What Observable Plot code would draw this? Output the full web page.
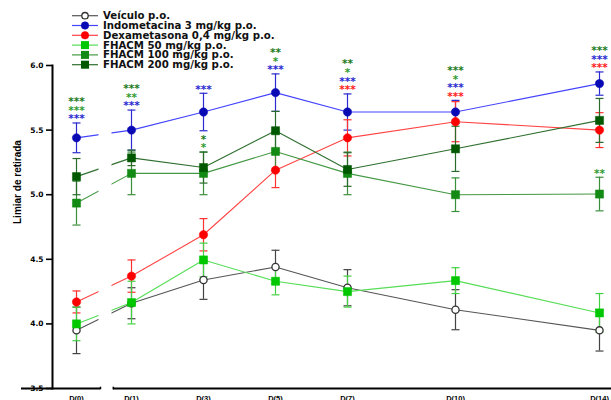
<!DOCTYPE html>
<html>
<head>
<meta charset="utf-8">
<script src="https://cdn.jsdelivr.net/npm/d3@7"></script>
<script src="https://cdn.jsdelivr.net/npm/@observablehq/plot@0.6"></script>
<style>
  html, body { margin: 0; padding: 0; background: #fff; }
  #wrap { position: relative; width: 611px; height: 400px; overflow: hidden; }
  #legend { position: absolute; left: 0; top: 0; }
</style>
</head>
<body>
<div id="wrap"></div>
<script>
// ---------- data ----------
const days = [0, 1, 3, 5, 7, 10, 14];
const dayLabels = ["D(0)", "D(1)", "D(3)", "D(5)", "D(7)", "D(10)", "D(14)"];
const seriesNames = [
  "Veículo p.o.",
  "Indometacina 3 mg/kg p.o.",
  "Dexametasona 0,4 mg/kg p.o.",
  "FHACM 50 mg/kg p.o.",
  "FHACM 100 mg/kg p.o.",
  "FHACM 200 mg/kg p.o."
];
const veiculoMean = [3.95, 4.16, 4.34, 4.44, 4.28, 4.11, 3.95];
const veiculoSem  = [0.18, 0.12, 0.15, 0.13, 0.14, 0.155, 0.16];
const indoMean    = [5.44, 5.50, 5.64, 5.79, 5.64, 5.64, 5.86];
const indoSem     = [0.115, 0.155, 0.145, 0.145, 0.14, 0.09, 0.09];
const dexaMean    = [4.17, 4.37, 4.69, 5.19, 5.44, 5.565, 5.50];
const dexaSem     = [0.085, 0.125, 0.125, 0.135, 0.14, 0.155, 0.135];
const f50Mean     = [4.00, 4.165, 4.495, 4.33, 4.25, 4.335, 4.085];
const f50Sem      = [0.13, 0.165, 0.13, 0.105, 0.12, 0.10, 0.15];
const f100Mean    = [4.935, 5.165, 5.165, 5.335, 5.165, 5.00, 5.005];
const f100Sem     = [0.17, 0.165, 0.165, 0.15, 0.165, 0.13, 0.13];
const f200Mean    = [5.14, 5.285, 5.21, 5.495, 5.195, 5.355, 5.575];
const f200Sem     = [0.14, 0.06, 0.12, 0.15, 0.13, 0.175, 0.17];

// significance marks: day, series index, label, group ("top" stack or "local" above own bars)
const sigDay    = [0, 0, 0,  1, 1, 1,  3,  3, 3,  5, 5, 5,  7, 7, 7, 7,  10, 10, 10, 10,  14, 14, 14,  14];
const sigSeries = [1, 4, 5,  1, 4, 5,  1,  4, 5,  1, 4, 5,  2, 1, 4, 5,   2,  1,  4,  5,   2,  1,  5,   4];
const sigLabel  = ["***", "***", "***",  "***", "**", "***",  "***",  "*", "*",  "***", "*", "**",
                   "***", "***", "*", "**",  "***", "***", "*", "***",  "***", "***", "***",  "**"];
const sigGroup  = ["top", "top", "top",  "top", "top", "top",  "top",  "local", "local",  "top", "top", "top",
                   "top", "top", "top", "top",  "top", "top", "top", "top",  "top", "top", "top",  "local"];

const yLabel = "Limiar de retirada";
const yTicks = [3.5, 4.0, 4.5, 5.0, 5.5, 6.0];

// ---------- styles ----------
const markerColor = ["#ffffff", "#0a0ab4", "#ff0000", "#00c800", "#138a13", "#005800"];
const markerStroke = ["#333333", "#0a0ab4", "#ff0000", "#00c800", "#138a13", "#005800"];
const lineColor   = ["#555555", "#4444ff", "#ff4444", "#55dd55", "#449944", "#2f6f2f"];
const barColor    = ["#444444", "#2a2ad0", "#ff3030", "#44d044", "#3a8f3a", "#2a6a2a"];
const starColor   = ["#333333", "#2828d0", "#ff2020", "#33bb33", "#2f9a2f", "#1a7a1a"];
const symbolOf    = ["circle", "circle", "circle", "square", "square", "square"];
const rOf         = [3.6, 4.2, 4.2, 4.6, 4.6, 4.6];

// ---------- tidy table ----------
const means = [veiculoMean, indoMean, dexaMean, f50Mean, f100Mean, f200Mean];
const sems  = [veiculoSem, indoSem, dexaSem, f50Sem, f100Sem, f200Sem];
const rows = [];
means.forEach((m, s) => days.forEach((d, i) => rows.push({s, day: d, mean: m[i], lo: m[i] - sems[s][i], hi: m[i] + sems[s][i]})));

// significance rows: anchored on highest bar top of the group at that day, ranked bottom-up
const sig = sigDay.map((d, i) => ({day: d, s: sigSeries[i], label: sigLabel[i], group: sigGroup[i], i}));
const order = [2, 1, 3, 4, 5];
sig.forEach(r => {
  const mates = sig.filter(q => q.day === r.day && q.group === r.group);
  const pool = r.group === "top" ? rows.filter(q => q.day === r.day) : rows.filter(q => q.day === r.day && mates.some(m => m.s === q.s));
  r.anchor = d3.max(pool, q => q.hi);
  r.rank = mates.filter(q => order.indexOf(q.s) < order.indexOf(r.s)).length;
});

// broken axis between D(0) and D(1)
const gap = [0.41, 0.645];
const axisBreak = [0.436, 0.67];

const capSymbol = {draw(ctx, size) { const r = Math.sqrt(size / Math.PI); ctx.moveTo(-r, 0); ctx.lineTo(r, 0); }};

const marks = [];
// lines
for (let s = 0; s < 6; s++) {
  marks.push(Plot.line(rows.filter(r => r.s === s), {x: "day", y: "mean", stroke: lineColor[s], strokeWidth: 1.1}));
}
// gap mask
marks.push(Plot.rect([0], {x1: gap[0], x2: gap[1], y1: 3.5, y2: 6.0, fill: "white"}));
// error bars
for (let s = 0; s < 6; s++) {
  const rs = rows.filter(r => r.s === s);
  marks.push(Plot.ruleX(rs, {x: "day", y1: "lo", y2: "hi", stroke: barColor[s], strokeWidth: 1.2}));
  marks.push(Plot.dot(rs, {x: "day", y: "lo", symbol: capSymbol, r: 4, stroke: barColor[s], strokeWidth: 1.2, fill: "none"}));
  marks.push(Plot.dot(rs, {x: "day", y: "hi", symbol: capSymbol, r: 4, stroke: barColor[s], strokeWidth: 1.2, fill: "none"}));
}
// markers
for (let s = 0; s < 6; s++) {
  marks.push(Plot.dot(rows.filter(r => r.s === s), {x: "day", y: "mean", symbol: symbolOf[s], r: rOf[s],
    fill: markerColor[s], stroke: markerStroke[s], strokeWidth: s === 0 ? 1.3 : 0.5}));
}
// significance stars
for (let k = 0; k < 4; k++) {
  const rs = sig.filter(r => r.rank === k);
  marks.push(Plot.text(rs, {x: "day", y: "anchor", text: "label", fill: d => starColor[d.s],
    dy: -4 - 8.6 * k, fontSize: 10.5, fontWeight: "bold", fontFamily: "DejaVu Sans", lineAnchor: "middle",
    style: "letter-spacing: 1px"}));
}
// x axis (broken)
marks.push(Plot.ruleY([3.5], {x1: -1, x2: axisBreak[0], stroke: "black", strokeWidth: 2}));
marks.push(Plot.ruleY([3.5], {x1: axisBreak[1], x2: 15, stroke: "black", strokeWidth: 2}));
marks.push(Plot.ruleX(axisBreak, {y1: 3.49, y2: 3.51, stroke: "black", strokeWidth: 1.5}));
marks.push(Plot.axisX({ticks: days, tickFormat: (d) => dayLabels[days.indexOf(d)], tickSize: 0, tickPadding: 7,
  fontSize: 7.5, fontWeight: "bold", fontFamily: "Liberation Sans, Arial, sans-serif", label: null}));
// y axis
marks.push(Plot.frame({anchor: "left", stroke: "black", strokeWidth: 2}));
marks.push(Plot.axisY({ticks: yTicks, tickFormat: ".1f", tickSize: 6, tickPadding: 3, strokeWidth: 1.6,
  fontSize: 7.5, fontWeight: "bold", fontFamily: "DejaVu Sans, sans-serif", label: null}));
marks.push(Plot.text([yLabel], {frameAnchor: "left", rotate: -90, dx: -35, dy: -3, fontSize: 10, fontWeight: "bold",
  fontFamily: "Liberation Sans Narrow, Liberation Sans, Arial, sans-serif"}));

const chart = Plot.plot({
  width: 611,
  height: 400,
  marginLeft: 52,
  marginRight: 0,
  marginTop: 65,
  marginBottom: 12,
  style: {background: "white", overflow: "visible"},
  x: {type: "linear", domain: [0, 1, 14], range: [76, 131, 599]},
  y: {domain: [3.5, 6.0]},
  marks
});
document.getElementById("wrap").appendChild(chart);

// ---------- legend ----------
const lg = d3.select("#wrap").append("svg").attr("id", "legend").attr("width", 300).attr("height", 75);
seriesNames.forEach((name, s) => {
  const y = 15.7 + s * 9.8;
  const g = lg.append("g");
  g.append("line").attr("x1", 72).attr("x2", 98).attr("y1", y).attr("y2", y).attr("stroke", lineColor[s]).attr("stroke-width", 1.2);
  if (symbolOf[s] === "circle") {
    g.append("circle").attr("cx", 85).attr("cy", y).attr("r", s === 0 ? 3.2 : 3.8)
      .attr("fill", markerColor[s]).attr("stroke", markerStroke[s]).attr("stroke-width", s === 0 ? 1.3 : 0.5);
  } else {
    g.append("rect").attr("x", 81).attr("y", y - 4).attr("width", 8).attr("height", 8).attr("fill", markerColor[s]);
  }
  g.append("text").attr("x", 103).attr("y", y).attr("dominant-baseline", "central")
    .attr("font-family", "DejaVu Sans, sans-serif").attr("font-weight", "bold").attr("font-size", 10.2)
    .attr("fill", "#111").text(name);
});
</script>
</body>
</html>
